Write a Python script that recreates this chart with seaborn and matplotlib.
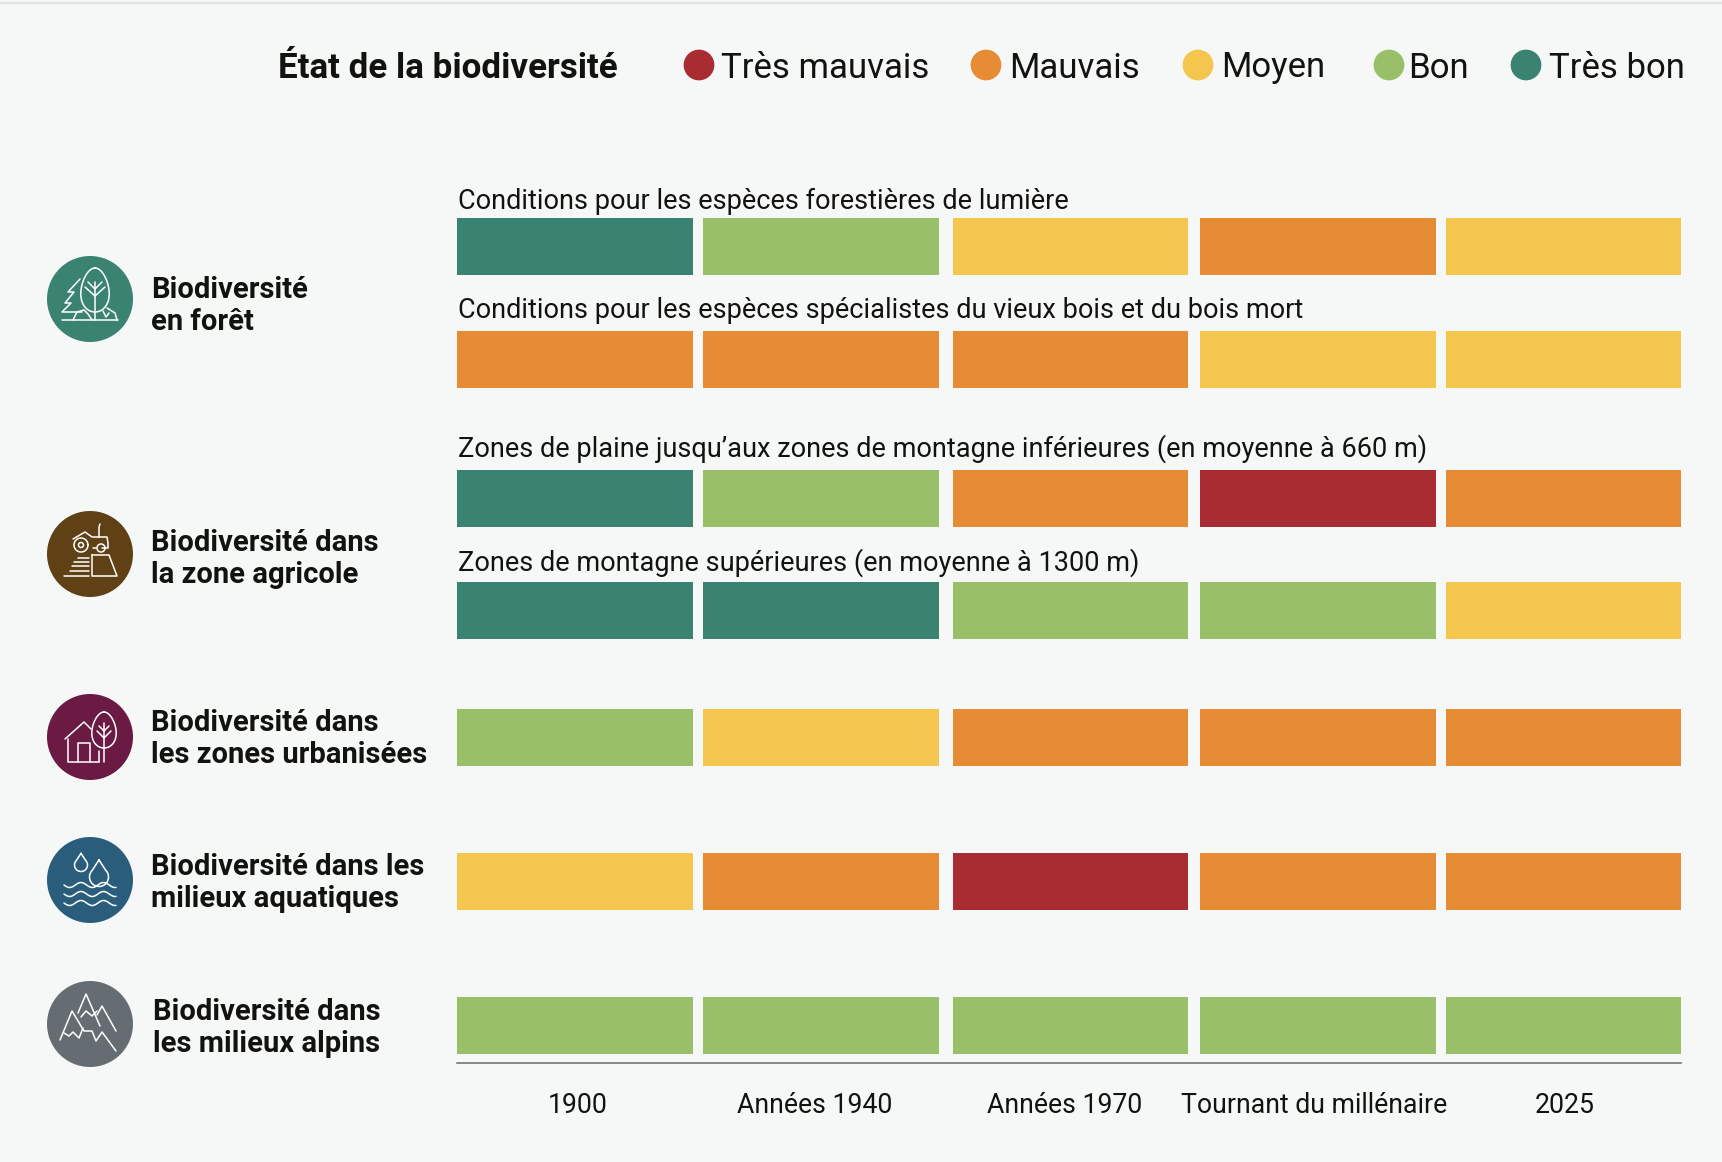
import numpy as np
import pandas as pd
import matplotlib.pyplot as plt
from matplotlib.patches import Circle
import seaborn as sns

# --- data ---
periods = ["1900", "Années 1940", "Années 1970", "Tournant du millénaire", "2025"]
statuses = ["Très mauvais", "Mauvais", "Moyen", "Bon", "Très bon"]
status_colors = ["#a92c33", "#e58c35", "#f5c64e", "#9abf69", "#3b8371"]

row_names = ["foret_lumiere", "foret_bois", "agri_plaine", "agri_montagne", "urbain", "aquatique", "alpin"]
foret_lumiere = ["Très bon", "Bon", "Moyen", "Mauvais", "Moyen"]
foret_bois = ["Mauvais", "Mauvais", "Mauvais", "Moyen", "Moyen"]
agri_plaine = ["Très bon", "Bon", "Mauvais", "Très mauvais", "Mauvais"]
agri_montagne = ["Très bon", "Très bon", "Bon", "Bon", "Moyen"]
urbain = ["Bon", "Moyen", "Mauvais", "Mauvais", "Mauvais"]
aquatique = ["Moyen", "Mauvais", "Très mauvais", "Mauvais", "Mauvais"]
alpin = ["Bon", "Bon", "Bon", "Bon", "Bon"]

sub_labels = [
    "Conditions pour les espèces forestières de lumière",
    "Conditions pour les espèces spécialistes du vieux bois et du bois mort",
    "Zones de plaine jusqu’aux zones de montagne inférieures (en moyenne à 660 m)",
    "Zones de montagne supérieures (en moyenne à 1300 m)",
]
group_labels = [
    "Biodiversité\nen forêt",
    "Biodiversité dans\nla zone agricole",
    "Biodiversité dans\nles zones urbanisées",
    "Biodiversité dans les\nmilieux aquatiques",
    "Biodiversité dans\nles milieux alpins",
]
group_colors = ["#3b8371", "#5f4115", "#6b1a43", "#2a5d7c", "#656c72"]
legend_title = "État de la biodiversité"

# --- layout, in pixels of the output ---
W, H = 1722, 1162
BASE_Y = 1063
col_left = [457, 703, 953, 1200, 1446]
col_width = [236, 236, 235, 236, 235]
col_tick = [578, 815, 1065, 1314, 1565]
row_center = [246.5, 359, 498.5, 610.5, 737, 881, 1025]
BAR_H = 57
sub_y = [201, 311, 449, 563]
group_y = [306, 559, 739, 883, 1028]
group_x = [151, 151, 151, 151, 153]
icon_y = [299, 554, 737, 880, 1024]
ICON_X = 90
ICON_R = 43
legend_dot_x = [699, 986, 1198, 1389, 1526]
legend_txt_x = [721, 1009, 1221, 1408, 1549]
LEGEND_Y = 68

BG = "#f6f8f8"
INK = "#12120f"

sns.set_theme(style="white")
plt.rcParams["font.family"] = ["Roboto", "DejaVu Sans"]

fig = plt.figure(figsize=(W / 100, H / 100), dpi=100, facecolor=BG)
ax = fig.add_axes([0, (H - BASE_Y) / H, 1, BASE_Y / H], facecolor=BG)

rows = [foret_lumiere, foret_bois, agri_plaine, agri_montagne, urbain, aquatique, alpin]
df = pd.DataFrame(rows, index=row_names, columns=periods)
df["pos"] = row_center
palette = dict(zip(statuses, status_colors))

# one barplot per period, each column starts at its own left edge
min_step = min(np.diff(row_center))
for i, period in enumerate(periods):
    sns.barplot(
        data=df, y="pos", x=[col_width[i]] * len(df), left=col_left[i],
        hue=period, hue_order=statuses, palette=palette, saturation=1,
        orient="y", native_scale=True, dodge=False,
        width=BAR_H / min_step, linewidth=0, legend=False, ax=ax,
    )

ax.set_xlim(0, W)
ax.set_ylim(BASE_Y, 0)
ax.set_xlabel("")
ax.set_ylabel("")
ax.set_yticks([])
ax.set_xticks(col_tick)
ax.set_xticklabels(periods, fontsize=19.2, color=INK)
ax.tick_params(axis="x", length=0, pad=21)
for side in ["top", "left", "right"]:
    ax.spines[side].set_visible(False)
ax.spines["bottom"].set_bounds(457, 1681)
ax.spines["bottom"].set_color("#666a6a")
ax.spines["bottom"].set_linewidth(1.1)
ax.grid(False)

# thin light strip along the very top
ax.plot([0, W], [2.5, 2.5], color="#e0e2e2", lw=1.6, clip_on=False)

# legend
ax.text(278, LEGEND_Y, legend_title, fontsize=25.2, fontweight="bold", color=INK, va="center")
sns.scatterplot(x=legend_dot_x, y=[65] * 5, hue=statuses, hue_order=statuses,
                palette=palette, s=490, linewidth=0, legend=False, ax=ax)
for x, label in zip(legend_txt_x, statuses):
    ax.text(x, LEGEND_Y, label, fontsize=25, color=INK, va="center")

for y, label in zip(sub_y, sub_labels):
    ax.text(458, y, label, fontsize=19.5, color=INK, va="center")

for x, y, label in zip(group_x, group_y, group_labels):
    ax.text(x, y, label, fontsize=21, fontweight="bold", color=INK, va="center", linespacing=1.2)


# --- icons: white outlines, offsets in px from the disc centre ---
def egg(cx, cy, a, b):
    t = np.linspace(0, 2 * np.pi, 60)
    return cx + a * np.sin(t) * (1 - 0.18 * np.cos(t)), cy - b * np.cos(t)


def ring(cx, cy, r):
    t = np.linspace(0, 2 * np.pi, 50)
    return cx + r * np.cos(t), cy + r * np.sin(t)


def drop(cx, cy, r):
    t = np.linspace(-0.75 * np.pi, 0.75 * np.pi, 40) + np.pi / 2
    xs = cx + r * np.cos(t)
    ys = cy + r * np.sin(t)
    return np.r_[cx, xs, cx], np.r_[cy - 1.8 * r, ys, cy - 1.8 * r]


def wave(x0, x1, y, amp, cycles):
    xs = np.linspace(x0, x1, 60)
    return xs, y + amp * np.sin((xs - x0) / (x1 - x0) * cycles * 2 * np.pi)


forest = [
    ([-28, 28], [21, 21]),
    egg(5, -9, 14, 22),
    ([5, 5], [-17, 21]),
    ([-5, 5, 15], [-12, -3, -12]),
    ([-2, 5, 12], [-17, -10, -17]),
    ([-10, -22, -16, -25, -19, -28, -8], [-20, -7, -7, 4, 4, 13, 13]),
    ([-17, -13, -6, -2, 2], [21, 13, 11, 15, 21]),
    ([17, 25, 27], [9, 14, 21]),
    ([13, 16, 19], [12, 18, 14]),
]
farm = [
    ([-17, -5, 2, 8, 17, 18, 18, 12], [-15, -22, -17, -17, -17, -11, -6, -6]),
    ([9, 9, 10], [-17, -27, -30]),
    ring(-9, -9, 7), ring(-9, -9, 2.5), ring(11, -6, 4),
    ([3, 6], [-6, -6]),
    ([-12, -1], [4, 4]), ([-16, -1], [8, 8]), ([-18, -1], [12, 12]),
    ([-20, -1], [17, 17]), ([-26, -1], [22, 22]),
    ([2, 19, 27, 2, 2], [1, 1, 22, 22, 1]),
]
urban = [
    ([-25, -6, 1], [2, -15, -8]),
    ([-22, -22, 9], [2, 25, 25]), ([9, 9], [14, 25]),
    ([-12, -12, 0, 0], [25, 6, 6, 25]),
    egg(14, -7, 12, 18),
    ([14, 14], [-14, 25]),
    ([7, 14, 21], [-6, 1, -6]),
    ([9, 14, 19], [-11, -6, -11]),
]
water = [
    drop(-9, -15, 6.5),
    drop(9, -3, 9.5),
    wave(-26, 26, 5, 2.5, 2.3),
    wave(-26, 26, 14, 2.5, 2.3),
    wave(-26, 26, 23, 2.5, 2.3),
]
alps = [
    ([-12, -4, 10], [-11, -30, 2]),
    ([7, 12, 26], [-9, -18, 7]),
    ([-9, -4, 2, 7], [-7, -13, -8, -13]),
    ([-30, -18, -6, 2, 6, 12, 26], [16, -13, 7, 7, 17, 8, 27]),
    ([-26, -21, -17, -11, -7], [9, 12, 8, 14, 4]),
]
icons = [forest, farm, urban, water, alps]

for y, color, paths in zip(icon_y, group_colors, icons):
    ax.add_patch(Circle((ICON_X, y), ICON_R, facecolor=color, edgecolor="none", clip_on=False, zorder=3))
    for px, py in paths:
        ax.plot(ICON_X + np.asarray(px), y + np.asarray(py), color="white", lw=1.1,
                clip_on=False, zorder=4, solid_capstyle="round")

fig.savefig("out.png", dpi=100, facecolor=BG)
